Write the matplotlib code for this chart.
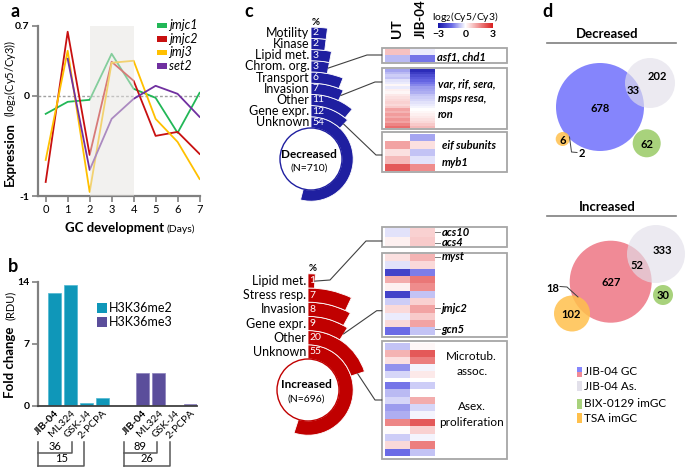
import numpy as np
import matplotlib
matplotlib.use('Agg')
import matplotlib.pyplot as plt
from matplotlib.patches import Wedge, Circle, Rectangle
from matplotlib.colors import LinearSegmentedColormap, Normalize
from matplotlib.cm import ScalarMappable

plt.rcParams['font.family'] = ['Lato', 'DejaVu Sans']
plt.rcParams['mathtext.fontset'] = 'custom'
plt.rcParams['mathtext.rm'] = 'Lato'
plt.rcParams['mathtext.it'] = 'Lato:italic'
plt.rcParams['mathtext.bf'] = 'Lato:bold'

W, H = 685, 467

# ---------------- data ----------------
# panel a
days = [0, 1, 2, 3, 4, 5, 6, 7]
jmjc1 = [-0.18, -0.06, -0.04, 0.42, 0.07, -0.02, -0.37, 0.03]
jmjc2 = [-0.86, 0.64, -0.59, 0.34, 0.15, -0.40, -0.36, -0.58]
jmj3 = [-0.64, 0.45, -0.96, 0.33, 0.35, -0.23, -0.46, -0.83]
set2 = [np.nan, 0.37, -0.74, -0.23, -0.03, 0.10, 0.02, -0.21]
gene_names = ['jmjc1', 'jmjc2', 'jmj3', 'set2']
gene_colors = ['#22b757', '#c81010', '#ffc000', '#7030a0']

# panel b
inhibitors = ['JIB-04', 'ML324', 'GSK-J4', '2-PCPA']
me2 = [12.7, 13.6, 0.34, 0.82]
me3 = [3.73, 3.69, 0.0, 0.15]
mark_names = ['H3K36me2', 'H3K36me3']
bracket_me2 = [36, 15]
bracket_me3 = [89, 26]

# panel c
dec_cats = ['Motility', 'Kinase', 'Lipid met.', 'Chrom. org.', 'Transport',
            'Invasion', 'Other', 'Gene expr.', 'Unknown']
dec_pct = [2, 2, 3, 3, 6, 7, 11, 12, 54]
dec_n = 710
inc_cats = ['Lipid met.', 'Stress resp.', 'Invasion', 'Gene expr.', 'Other', 'Unknown']
inc_pct = [1, 7, 8, 9, 20, 55]
inc_n = 696

dec_h1_ut = [0.8, -0.7]
dec_h1_jib = [-0.2, -1.4]
dec_h2_ut = [-0.9, -0.7, -0.5, -0.6, -0.3, -0.2, 0.1, -0.2, 0.2, 0.1, 0.3, 0.4,
             0.5, 0.6, 0.5, 0.7, 1.2, 1.0, 1.3, 1.1, 1.4, 1.2, 1.6, 1.9]
dec_h2_jib = [-2.6, -2.3, -2.0, -1.8, -1.6, -1.4, -1.2, -1.0, -0.9, -0.8, -0.6, -0.5,
              -0.4, -0.3, -0.2, -0.1, 0.0, 0.1, 0.2, 0.3, 0.4, 0.5, 0.7, 0.9]
dec_h3_ut = [0.0, 1.2, 0.4, 0.9, 2.2]
dec_h3_jib = [-0.9, 0.4, -0.6, -0.3, 1.5]
inc_h1_ut = [-0.3, 0.2]
inc_h1_jib = [0.6, 0.7]
inc_h2_ut = [0.4, -0.3, -2.2, 1.1, 0.2, -2.2, -0.5, 0.5, -0.2, 0.5, -1.5]
inc_h2_jib = [1.0, 0.5, -1.3, 1.8, 1.5, -0.6, 0.6, 1.2, 0.7, 1.2, -0.6]
inc_h3a_ut = [-0.6, 1.0, 0.4, -1.1, -0.4]
inc_h3a_jib = [0.1, 2.2, 1.7, -0.1, 0.3]
inc_h3b_ut = [-1.4, -0.7, -0.4, -1.0, -0.8, 1.6, 0.05, -0.5, 0.5, -1.5]
inc_h3b_jib = [-0.5, 0.0, 1.1, -0.4, -0.1, 2.2, 0.6, -0.1, 1.7, -0.6]

# panel d
dec_venn = [678, 202, 33, 62, 6, 2]
inc_venn = [627, 333, 52, 30, 102, 18]
venn_names = ['JIB-04 GC', 'JIB-04 As.', 'BIX-0129 imGC', 'TSA imGC']

# ---------------- figure ----------------
fig = plt.figure(figsize=(6.85, 4.67), dpi=100)


def rect(x0, y0, x1, y1):
    return [x0 / W, 1 - y1 / H, (x1 - x0) / W, (y1 - y0) / H]


SP = '#808080'

# ---- panel a ----
ax_a = fig.add_axes(rect(38, 25.7, 200, 196))
ax_a.patch.set_alpha(0)
ax_a.set_xlim(-0.35, 7.02)
ax_a.set_ylim(-1, 0.7)
ax_a.axhline(0, color='#a0a0a0', ls=(0, (2, 1.5)), lw=1, zorder=1)
for vals, c in zip([jmjc1, jmjc2, jmj3, set2], gene_colors):
    ax_a.plot(days, vals, color=c, lw=1.3, zorder=2)
ax_a.axvspan(2, 4, color='#e6e4e1', alpha=0.5, lw=0, zorder=5)
for s in ['top', 'right']:
    ax_a.spines[s].set_visible(False)
for s in ['left', 'bottom']:
    ax_a.spines[s].set_color(SP)
    ax_a.spines[s].set_linewidth(1.6)
ax_a.set_yticks([-1, 0, 0.7])
ax_a.set_yticklabels(['-1', '0', '0.7'], fontweight='bold', fontsize=7.5)
ax_a.set_xticks(days)
ax_a.set_xticklabels([str(d) for d in days], fontsize=8)
ax_a.tick_params(axis='both', length=4, width=1.2, color=SP, pad=2)

# ---- panel b ----
ax_b = fig.add_axes(rect(38, 281.7, 197, 405.7))
ax_b.patch.set_alpha(0)
ax_b.set_xlim(-1.03, 8.9)
ax_b.set_ylim(0, 14)
pos2 = [0, 1, 2, 3]
pos3 = [5.5, 6.5, 7.5, 8.5]
ax_b.bar(pos2, me2, width=0.78, color='#0f97b9', edgecolor='#4fb8d2', lw=0.5)
ax_b.bar(pos3, me3, width=0.78, color='#5b4e9b', edgecolor='#8a80bb', lw=0.5)
for s in ['top', 'right']:
    ax_b.spines[s].set_visible(False)
ax_b.spines['left'].set_color(SP)
ax_b.spines['left'].set_linewidth(1.6)
ax_b.spines['bottom'].set_color('#404040')
ax_b.spines['bottom'].set_linewidth(1.3)
ax_b.set_yticks([0, 7, 14])
ax_b.set_yticklabels(['0', '7', '14'], fontweight='bold', fontsize=7.5)
ax_b.tick_params(axis='y', length=4, width=1.2, color=SP, pad=2)
ax_b.set_xticks(pos2 + pos3)
labs = ax_b.set_xticklabels(inhibitors * 2, rotation=45, ha='right',
                            rotation_mode='anchor', fontsize=7.5)
for lab in labs:
    if lab.get_text() == 'JIB-04':
        lab.set_fontweight('bold')
ax_b.tick_params(axis='x', length=0, pad=2)

# ---- colormap / colorbar ----
cmap = LinearSegmentedColormap.from_list(
    'bwr2', [(0, '#1616a8'), (0.25, '#6a6ae6'), (0.5, '#ffffff'),
             (0.75, '#ef8d8d'), (1, '#d81e1e')])
norm = Normalize(-3, 3)
cax = fig.add_axes(rect(438, 22.7, 493, 28.3))
cb = fig.colorbar(ScalarMappable(norm=norm, cmap=cmap), cax=cax,
                  orientation='horizontal', ticks=[-3, 0, 3])
cb.outline.set_visible(False)
cax.tick_params(length=0, labelsize=7.5, pad=1)
for t in cax.get_xticklabels():
    t.set_fontweight('bold')

# ---- overlay axes in pixel coordinates ----
ax = fig.add_axes([0, 0, 1, 1])
ax.set_zorder(10)
ax.patch.set_alpha(0)
ax.set_xlim(0, W)
ax.set_ylim(H, 0)
ax.axis('off')

# panel letters
for letter, (x, y) in zip('abcd', [(15, 11.7), (12.7, 266), (248.3, 11.7), (547.3, 11.7)]):
    ax.text(x, y, letter, fontsize=13, fontweight='bold', ha='center', va='center')

# panel a labels + legend
ax.text(10, 186, 'Expression', rotation=90, fontsize=9.5, fontweight='bold',
        ha='center', va='bottom')
ax.text(10, 117, r'(log$_2$(Cy5/Cy3))', rotation=90, fontsize=8,
        ha='center', va='bottom')
ax.text(164, 228, 'GC development', fontsize=9.5, fontweight='bold', ha='right', va='center')
ax.text(167, 229, '(Days)', fontsize=7.5, ha='left', va='center')
for i, (n, c) in enumerate(zip(gene_names, gene_colors)):
    y = 25.3 + 13.5 * i
    ax.add_patch(Rectangle((157, y - 2.8), 10, 5.6, color=c, lw=0))
    ax.text(169, y, n, fontsize=9, style='italic', ha='left', va='center')

# panel b labels + legend + brackets
ax.text(10, 398.5, 'Fold change', rotation=90, fontsize=9.5, fontweight='bold',
        ha='center', va='bottom')
ax.text(10, 320, '(RDU)', rotation=90, fontsize=8, ha='center', va='bottom')
for i, (n, c) in enumerate(zip(mark_names, ['#0f97b9', '#5b4e9b'])):
    y = 307.7 + 14 * i
    ax.add_patch(Rectangle((96.7, y - 5), 10.6, 10, color=c, lw=0))
    ax.text(108.5, y, n, fontsize=9, ha='left', va='center')
BC = '#595959'
for (x0, x1, x2), (n1, n2) in zip([(38.3, 71.7, 84.3), (124, 156.7, 170)],
                                  [bracket_me2, bracket_me3]):
    ax.plot([x0, x0], [441.7, 466], color=BC, lw=1.1)
    ax.plot([x0, x1, x1], [452.5, 452.5, 441.7], color=BC, lw=1.1)
    ax.plot([x0, x2, x2], [466, 466, 441.7], color=BC, lw=1.1)
    ax.text((x0 + x1) / 2, 446.5, str(n1), fontsize=8, ha='center', va='center')
    ax.text((x0 + x2) / 2, 459, str(n2), fontsize=8, ha='center', va='center')

# panel c radial bars


def radial(cx, cy, r0, w, cats, pcts, color, title, n):
    ends = {}
    for k, (cat, p) in enumerate(zip(cats[::-1], pcts[::-1])):
        r_in = r0 + k * w
        ax.add_patch(Wedge((cx, cy), r_in + w, 270, 270 + p * 3.6, width=w,
                           facecolor=color, edgecolor='white', lw=0.6))
        ymid = cy - (r_in + w / 2)
        ax.text(cx - 1.5, ymid, cat, fontsize=9, ha='right', va='center')
        ax.text(cx + 1.5, ymid, str(p), fontsize=7.5, color='white', ha='left', va='center')
        ends[cat] = (r_in, p)
    top = cy - (r0 + len(cats) * w)
    ax.text(cx + 5, top - 5, '%', fontsize=7, fontweight='bold', ha='center', va='center')
    ax.add_patch(Circle((cx, cy), r0, facecolor='white', edgecolor=color, lw=1.0))
    ax.text(cx - 2, cy - 5, title, fontsize=8.5, fontweight='bold', ha='center', va='center')
    ax.text(cx - 2, cy + 9, '(N=%d)' % n, fontsize=7.5, ha='center', va='center')
    return ends


def ring_point(cx, cy, r, p):
    a = np.deg2rad(p * 3.6)
    return cx + r * np.sin(a), cy - r * np.cos(a)


dcx, dcy, dr0, dw = 311, 159, 31, 11.2
dends = radial(dcx, dcy, dr0, dw, dec_cats, dec_pct, '#1f1fa0', 'Decreased', dec_n)
icx, icy, ir0, iw = 308, 390, 31, 14.2
iends = radial(icx, icy, ir0, iw, inc_cats, inc_pct, '#c00000', 'Increased', inc_n)

LC = '#404040'


def connector(ends, cx, cy, w, cat, pts):
    r_in, p = ends[cat]
    x0, y0 = ring_point(cx, cy, r_in + w / 2, p)
    xs = [x0] + [q[0] for q in pts]
    ys = [y0] + [q[1] for q in pts]
    ax.plot(xs, ys, color=LC, lw=0.8)


connector(dends, dcx, dcy, dw, 'Chrom. org.', [(367, 55), (381.7, 55)])
connector(dends, dcx, dcy, dw, 'Invasion', [(375, 82), (381.7, 82)])
connector(dends, dcx, dcy, dw, 'Gene expr.', [(376, 155), (381.7, 155)])
connector(iends, icx, icy, iw, 'Lipid met.', [(330, 280), (366, 241), (381.7, 241)])
connector(iends, icx, icy, iw, 'Gene expr.', [(376.7, 310.7), (381.7, 310.7)])
connector(iends, icx, icy, iw, 'Other', [(375, 400), (381.7, 400)])

# heatmaps
XE = [385, 410, 435]


def heat(y0, y1, ut, jib):
    ye = np.linspace(y0, y1, len(ut) + 1)
    ax.pcolormesh(XE, ye, np.column_stack([ut, jib]), cmap=cmap, norm=norm,
                  shading='flat', lw=0)


def box(y0, y1):
    ax.add_patch(Rectangle((381.7, y0), 125, y1 - y0, fill=False,
                           edgecolor='#a6a6a6', lw=1.3))


box(47.7, 62.7); heat(48.6, 62, dec_h1_ut, dec_h1_jib)
box(68.3, 129); heat(69.3, 128, dec_h2_ut, dec_h2_jib)
box(132, 172.3); heat(134, 171, dec_h3_ut, dec_h3_jib)
box(226.7, 247); heat(227.7, 246, inc_h1_ut, inc_h1_jib)
box(252.7, 336.7); heat(254, 334.5, inc_h2_ut, inc_h2_jib)
box(341, 459); heat(343.3, 378.3, inc_h3a_ut, inc_h3a_jib)
heat(381.7, 456, inc_h3b_ut, inc_h3b_jib)

ax.text(397.5, 38, 'UT', rotation=90, fontsize=10, fontweight='bold', ha='center', va='bottom')
ax.text(421, 38, 'JIB-04', rotation=90, fontsize=9.5, fontweight='bold', ha='center', va='bottom')
ax.text(465.5, 16.5, r'log$_2$(Cy5/Cy3)', fontsize=7.5, ha='center', va='center')

GI = dict(fontsize=8, fontweight='bold', style='italic', ha='left', va='center')
ax.text(437.5, 56.5, 'asf1, chd1', **GI)
ax.text(438, 84, 'var, rif, sera,', **GI)
ax.text(438, 99, 'msps resa,', **GI)
ax.text(438, 114, 'ron', **GI)
ax.text(442, 146, 'eif subunits', **GI)
ax.text(442, 162, 'myb1', **GI)
for name, y in [('acs10', 232), ('acs4', 242.5), ('myst', 256.7),
                ('jmjc2', 308.3), ('gcn5', 329.3)]:
    ax.plot([435.5, 440], [y, y], color='#808080', lw=0.7)
    ax.text(441.5, y, name, **GI)
for txt, y in [('Microtub.', 356.7), ('assoc.', 371.7), ('Asex.', 406.7),
               ('proliferation', 422.7)]:
    ax.text(471.7, y, txt, fontsize=8.5, ha='center', va='center')

# ---- panel d ----
BLUE, PINK, GRAY, GREEN, ORANGE = '#8585fc', '#f08a96', '#e2e0ea', '#a8d27c', '#ffc04c'
NB = dict(fontsize=8, fontweight='bold', ha='center', va='center')

for title, ty in [('Decreased', 34), ('Increased', 207)]:
    ax.text(607, ty, title, fontsize=9.5, fontweight='bold', ha='center', va='center')
    ax.plot([547, 676], [ty + 8.5, ty + 8.5], color='#7f7f7f', lw=1.2)

# decreased venn
ax.add_patch(Circle((600, 107), 44, facecolor=BLUE, lw=0))
ax.add_patch(Circle((650, 83), 25, facecolor=GRAY, alpha=0.65, lw=0))
ax.add_patch(Circle((646.7, 143.3), 14, facecolor=GREEN, lw=0))
ax.add_patch(Circle((562.7, 139), 7, facecolor=ORANGE, alpha=0.85, lw=0))
for v, (x, y) in zip(dec_venn[:5], [(600, 108), (657, 77), (633.5, 90), (647, 144), (562.5, 140)]):
    ax.text(x, y, str(v), **NB)
ax.plot([569.5, 571.5, 577], [137, 152, 152.5], color=LC, lw=0.7)
ax.text(582, 153.5, str(dec_venn[5]), **NB)

# increased venn
ax.add_patch(Circle((610.7, 281.7), 41, facecolor=PINK, lw=0))
ax.add_patch(Circle((656, 254), 29, facecolor=GRAY, alpha=0.65, lw=0))
ax.add_patch(Circle((663, 295), 10, facecolor=GREEN, lw=0))
ax.add_patch(Circle((572, 313.5), 18, facecolor=ORANGE, alpha=0.85, lw=0))
for v, (x, y) in zip(inc_venn[:5], [(610.7, 282.3), (662.7, 251), (637.3, 265.7), (663, 295.5), (571, 315)]):
    ax.text(x, y, str(v), **NB)
ax.plot([560, 567, 578], [286.5, 287, 297], color=LC, lw=0.7)
ax.text(553, 288.3, str(inc_venn[5]), **NB)

# venn legend
leg_y = [371.7, 386, 403.5, 418]
ax.add_patch(Rectangle((577, leg_y[0] - 5), 5, 5, color=BLUE, lw=0))
ax.add_patch(Rectangle((577, leg_y[0]), 5, 5, color=PINK, lw=0))
for y, c in zip(leg_y[1:], [GRAY, GREEN, ORANGE]):
    ax.add_patch(Rectangle((577, y - 5), 5, 10, color=c, lw=0))
for y, n in zip(leg_y, venn_names):
    ax.text(584, y, n, fontsize=8.5, ha='left', va='center')

fig.savefig('out.png', dpi=100)
